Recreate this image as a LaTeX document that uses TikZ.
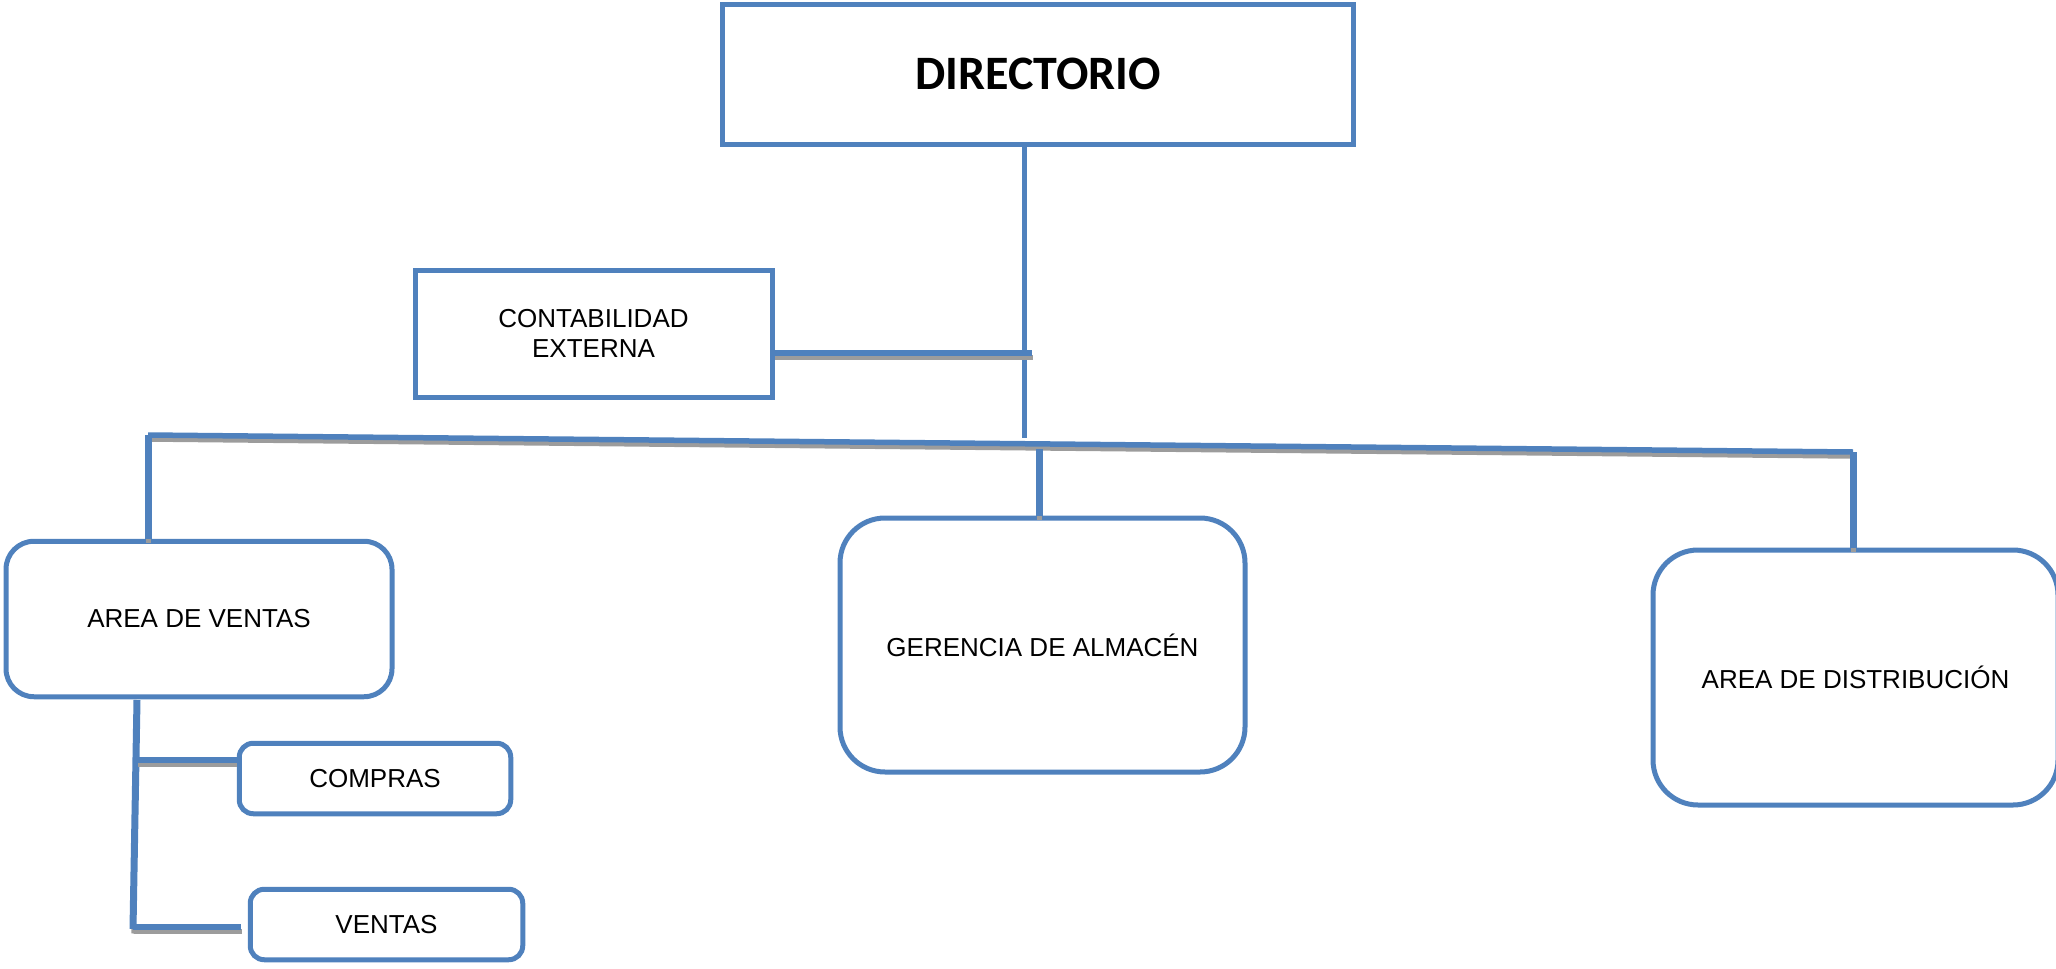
\documentclass[tikz,border=0pt]{standalone}
\usepackage{fontspec}
\setmainfont{Liberation Sans}
\newfontfamily\calibrifont{Carlito}
\definecolor{myblue}{HTML}{4F81BD}
\definecolor{shadowgray}{HTML}{9C9C9C}
\tikzset{
  boxbase/.style={draw=myblue, line width=5pt, fill=white, inner sep=0pt, align=center,
    font=\fontsize{26}{30}\selectfont},
  sqbox/.style={boxbase},
  rbox/.style={boxbase, rounded corners=#1},
  conn/.style={draw=myblue, line width=#1,
    preaction={draw=shadowgray, line width=4.5pt, transform canvas={shift={(0.5pt,-4.5pt)}}}},
  conn/.default=5.5pt
}
\begin{document}
\begin{tikzpicture}[x=1pt,y=-1pt]
\useasboundingbox (0,0) rectangle (2056,969);
% boxes
\node[sqbox, minimum width=631pt, minimum height=140pt, font=\calibrifont\bfseries\fontsize{48}{52}\selectfont]
  (dir) at (1038,74) {DIRECTORIO};
\node[sqbox, minimum width=357pt, minimum height=127pt] (contab) at (593.5,333.5)
  {CONTABILIDAD\\EXTERNA};
\node[rbox=28pt, minimum width=386pt, minimum height=155.5pt] (av) at (199,619) {AREA DE VENTAS};
\node[rbox=45pt, minimum width=405pt, minimum height=254pt] (ger) at (1042.5,645) {GERENCIA DE ALMACÉN};
\node[rbox=45pt, minimum width=405pt, minimum height=255pt] (dis) at (1855.5,677.5) {AREA DE DISTRIBUCIÓN};
\node[rbox=14pt, minimum width=271.5pt, minimum height=70.5pt] (com) at (375,778.5) {COMPRAS};
\node[rbox=14pt, minimum width=272.5pt, minimum height=70.5pt] (ven) at (386.5,924.5) {VENTAS};
% junction coordinates
\coordinate (mL) at (148,435);
\coordinate (mR) at (1853,452);
\coordinate (jTop) at (1024,438);
\coordinate (cB) at (1032,353);
\coordinate (mM) at (1039,449);
\coordinate (s1) at (137,700);
\coordinate (s2) at (133,929);
\coordinate (c1) at (137,760);
\coordinate (v1) at (133,927);
\coordinate (v2) at (241,927);
% connectors
\draw[draw=myblue, line width=5pt] (dir.south -| jTop) -- (jTop);
\draw[conn] (contab.east |- cB) -- (cB);
\draw[conn] (mL) -- (mR);
\draw[conn=7pt] (mL) -- (mL |- av.north);
\draw[conn=7pt] (mM) -- (mM |- ger.north);
\draw[conn=7pt] (mR) -- (mR |- dis.north);
\draw[conn=7pt] (s1) -- (s2);
\draw[conn] (c1) -- (c1 -| com.west);
\draw[conn] (v1) -- (v2);
\end{tikzpicture}
\end{document}
